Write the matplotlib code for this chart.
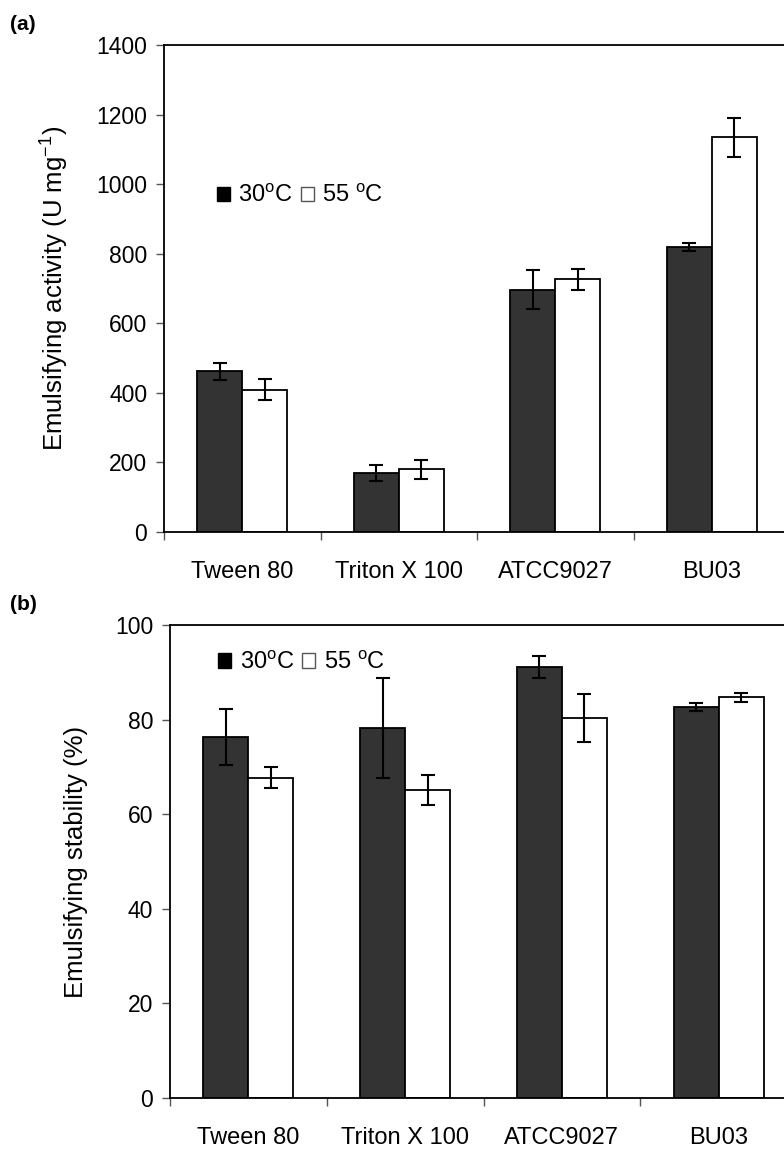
import matplotlib
matplotlib.use("Agg")
import matplotlib.pyplot as plt
import numpy as np
from matplotlib.patches import Patch

plt.rcParams["font.family"] = ["Liberation Sans", "DejaVu Sans"]
plt.rcParams["mathtext.default"] = "regular"

# Data
categories = ["Tween 80", "Triton X 100", "ATCC9027", "BU03"]

activity_30 = [462, 170, 697, 820]
activity_30_err = [25, 24, 57, 12]
activity_55 = [409, 180, 726, 1135]
activity_55_err = [30, 27, 30, 56]

stability_30 = [76.3, 78.3, 91.1, 82.6]
stability_30_err = [6.0, 10.6, 2.3, 0.85]
stability_55 = [67.7, 65.1, 80.4, 84.7]
stability_55_err = [2.2, 3.2, 5.1, 0.9]

dark = "#333333"
width = 0.287

fig = plt.figure(figsize=(7.84, 11.54), dpi=100)
ax_a = fig.add_axes([164 / 784, 1 - 532 / 1154, 626 / 784, 487 / 1154])
ax_b = fig.add_axes([170 / 784, 1 - 1098 / 1154, 627 / 784, 473 / 1154])


def draw_panel(ax, v30, e30, v55, e55, ymax, ystep, ylabel, label_x, leg_xy):
    x = np.arange(len(categories))
    ax.bar(x - width / 2, v30, width, color=dark, edgecolor="black", linewidth=1.3, zorder=2)
    ax.bar(x + width / 2, v55, width, color="white", edgecolor="black", linewidth=1.3, zorder=2)
    ax.errorbar(x - width / 2, v30, yerr=e30, fmt="none", ecolor="black",
                elinewidth=1.5, capsize=5, capthick=1.5, zorder=3)
    ax.errorbar(x + width / 2, v55, yerr=e55, fmt="none", ecolor="black",
                elinewidth=1.5, capsize=5, capthick=1.5, zorder=3)

    ax.set_xlim(-0.5, len(categories) - 0.5)
    ax.set_ylim(0, ymax)
    ax.set_yticks(np.arange(0, ymax + 1, ystep))
    ax.set_xticks(x)
    ax.set_xticklabels(categories, fontsize=17)
    ax.set_xticks(np.arange(-0.5, len(categories), 1.0), minor=True)
    ax.tick_params(axis="x", which="major", length=0, pad=21)
    ax.tick_params(axis="x", which="minor", length=6, width=1, color="#555555", direction="out")
    ax.tick_params(axis="y", length=6, width=1, color="#555555", labelsize=16.5, pad=6)
    for s in ["left", "bottom", "top"]:
        ax.spines[s].set_linewidth(1.3)
    ax.spines["right"].set_visible(False)

    ax.set_ylabel(ylabel, fontsize=18.5)
    ax.yaxis.set_label_coords(label_x, 0.5)

    handles = [Patch(facecolor="black", edgecolor="black"),
               Patch(facecolor="white", edgecolor="#555555", linewidth=1)]
    ax.legend(handles, ["30$^{o}$C", "55 $^{o}$C"], loc="center left",
              bbox_to_anchor=leg_xy, ncol=2, frameon=False, fontsize=17,
              handlelength=0.55, handleheight=0.55, handletextpad=0.35,
              columnspacing=0.35, borderpad=0, borderaxespad=0)


draw_panel(ax_a, activity_30, activity_30_err, activity_55, activity_55_err,
           1400, 200, "Emulsifying activity (U mg$^{-1}$)", -0.149, (0.085, 0.69))
draw_panel(ax_b, stability_30, stability_30_err, stability_55, stability_55_err,
           100, 20, "Emulsifying stability (%)", -0.131, (0.077, 0.92))

fig.text(10 / 784, 1 - 25 / 1154, "(a)", fontsize=15, fontweight="bold", va="center")
fig.text(10 / 784, 1 - 605 / 1154, "(b)", fontsize=15, fontweight="bold", va="center")

fig.savefig("out.png", dpi=100)
